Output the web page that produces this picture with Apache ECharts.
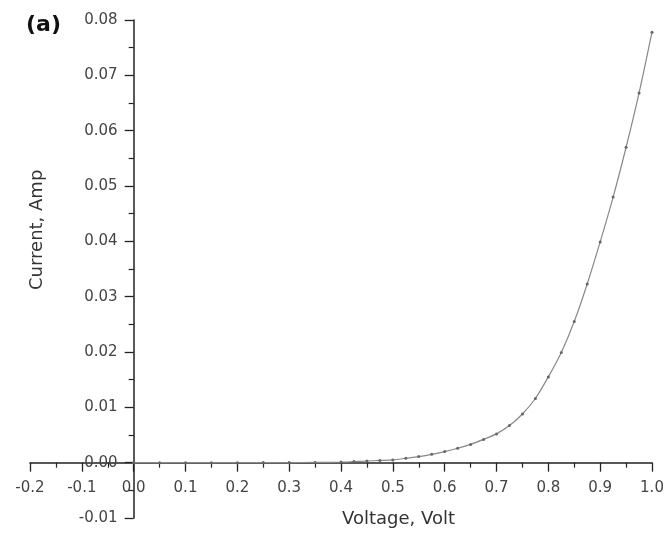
<!DOCTYPE html>
<html>
<head>
<meta charset="utf-8">
<script src="https://cdn.jsdelivr.net/npm/echarts@6/dist/echarts.min.js"></script>
<style>html,body{margin:0;padding:0;background:#fff;}#c{width:666px;height:537px;}</style>
</head>
<body>
<div id="c"></div>
<script>
const voltage = [0.00,0.05,0.10,0.15,0.20,0.25,0.30,0.35,0.40,0.425,0.45,0.475,0.50,0.525,0.55,0.575,0.60,0.625,0.65,0.675,0.70,0.725,0.75,0.775,0.80,0.825,0.85,0.875,0.90,0.925,0.95,0.975,1.00];
const current = [0,0,0,0,0,0.00001,0.00002,0.00005,0.0001,0.0002,0.0003,0.0004,0.0005,0.0008,0.0011,0.0015,0.0020,0.0026,0.0033,0.0042,0.0052,0.0067,0.0088,0.0116,0.0155,0.0199,0.0255,0.0323,0.0399,0.0480,0.0570,0.0668,0.0778];
const xTitle = 'Voltage, Volt';
const yTitle = 'Current, Amp';
const panelLabel = '(a)';

const font = 'DejaVu Sans';
const chart = echarts.init(document.getElementById('c'), null, {renderer: 'canvas'});
chart.setOption({
  animation: false,
  backgroundColor: '#ffffff',
  grid: {left: 30, right: 14, top: 20, bottom: 19, containLabel: false, outerBoundsMode: 'none'},
  xAxis: {
    type: 'value', min: -0.2, max: 1.0, interval: 0.1,
    axisLine: {onZero: false, lineStyle: {color: '#222', width: 1.5}},
    axisTick: {show: true, inside: false, length: 9, lineStyle: {color: '#222', width: 1.3}},
    minorTick: {show: true, splitNumber: 2, length: 5, lineStyle: {color: '#222', width: 1.2}},
    splitLine: {show: false},
    axisLabel: {margin: 18, color: '#444', fontFamily: font, fontSize: 15,
      formatter: v => v.toFixed(1), showMinLabel: true, showMaxLabel: true}
  },
  yAxis: {
    type: 'value', min: -0.01, max: 0.08, interval: 0.01,
    axisLine: {onZero: false, lineStyle: {color: '#222', width: 1.5}},
    axisTick: {show: true, inside: false, length: 9, lineStyle: {color: '#222', width: 1.3}},
    minorTick: {show: true, splitNumber: 2, length: 5, lineStyle: {color: '#222', width: 1.2}},
    splitLine: {show: false},
    axisLabel: {margin: 16, color: '#444', fontFamily: font, fontSize: 15,
      formatter: v => v.toFixed(2), showMinLabel: true, showMaxLabel: true}
  },
  series: [{
    type: 'line',
    data: voltage.map((v, i) => [v, current[i]]),
    smooth: 0.25,
    symbol: 'circle', symbolSize: 3,
    itemStyle: {color: '#666'},
    lineStyle: {color: '#888', width: 1.2}
  }],
  graphic: [
    {type: 'text', left: 342, top: 510, style: {text: xTitle, font: '18px "DejaVu Sans"', fill: '#333'}},
    {type: 'text', x: 28, y: 290, rotation: Math.PI / 2, style: {text: yTitle, font: '18px "DejaVu Sans"', fill: '#333'}},
    {type: 'text', left: 26, top: 14, style: {text: panelLabel, font: 'bold 22px "DejaVu Sans"', fill: '#111'}}
  ]
});
// move the axes to cross at the origin, using the library's own scales
const origin = chart.convertToPixel({gridIndex: 0}, [0, 0]);
const corner = chart.convertToPixel({gridIndex: 0}, [-0.2, -0.01]);
chart.setOption({
  xAxis: {offset: -(corner[1] - origin[1])},
  yAxis: {offset: -(origin[0] - corner[0])}
});
</script>
</body>
</html>
